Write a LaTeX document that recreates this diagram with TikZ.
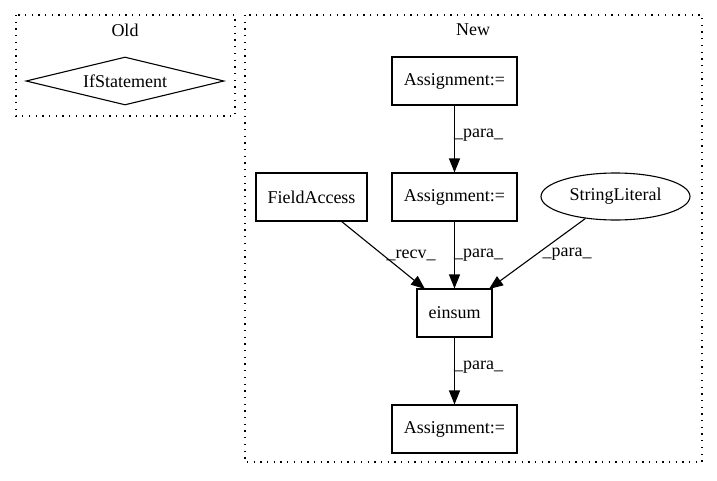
\documentclass[tikz,border=0pt]{standalone}
\usepackage{fontspec}
\setmainfont{Liberation Serif}
\usetikzlibrary{shapes.geometric,arrows.meta}
\begin{document}
\begin{tikzpicture}[x=1pt,y=-1pt,
  font=\fontsize{18}{20}\selectfont,
  cluster/.style={draw,line width=1.2pt,dash pattern=on 1.3pt off 5.4pt},
  box/.style={draw,line width=1.1pt,inner sep=0pt,minimum height=48pt},
  edge/.style={line width=1.1pt,-{Triangle[length=14pt,width=11pt]}},
  lbl/.style={inner sep=1pt}]
\useasboundingbox (0,0) rectangle (717,480);
% clusters
\draw[cluster] (16,15) rectangle (235,116);
\node (oldlbl) at (125,30) {Old};
\draw[cluster] (245,15) rectangle (702,462);
\node (newlbl) at (473,30) {New};
% nodes
\node[draw,line width=1.1pt,shape=diamond,inner sep=0pt,aspect=4.125,minimum width=198pt,minimum height=48pt] (ifs) at (125,81) {IfStatement};
\node[box,minimum width=125pt] (a1) at (454.5,81) {Assignment:=};
\node[box,minimum width=125pt] (a2) at (454.5,197) {Assignment:=};
\node[box,minimum width=111pt] (fa) at (311.5,197) {FieldAccess};
\node[draw,line width=1.1pt,ellipse,inner sep=0pt,minimum width=149pt,minimum height=47pt] (sl) at (615.5,196.5) {StringLiteral};
\node[box,minimum width=75pt] (ein) at (454.5,313) {einsum};
\node[box,minimum width=125pt] (a3) at (454.5,429) {Assignment:=};
\coordinate (fas) at (341,221);
\coordinate (einl) at (425,289);
\coordinate (einr) at (489,289);
% edges
\draw[edge] (a1) -- node[lbl,pos=0.45,right=-2pt] {\_para\_} (a2);
\draw[edge] (fas) -- node[lbl,pos=0.5,right=2pt] {\_recv\_} (einl);
\draw[edge] (a2) -- node[lbl,pos=0.5,right=-2pt] {\_para\_} (ein);
\draw[edge] (sl) -- node[lbl,pos=0.5,right=4pt] {\_para\_} (einr);
\draw[edge] (ein) -- node[lbl,pos=0.45,right=-2pt] {\_para\_} (a3);
\end{tikzpicture}
\end{document}
